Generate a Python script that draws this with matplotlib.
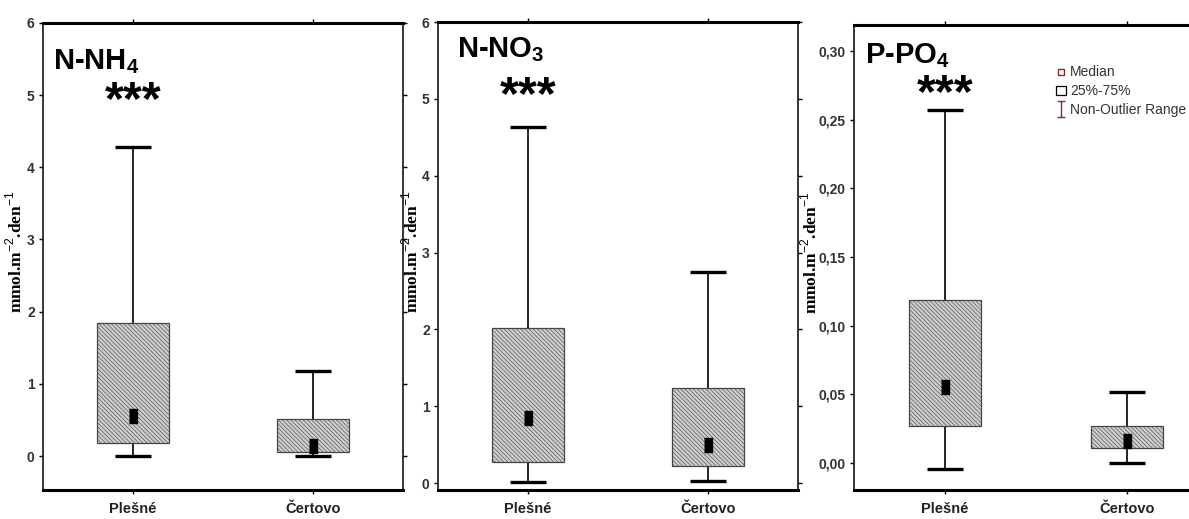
import matplotlib
matplotlib.use('Agg')
import matplotlib.pyplot as plt
from matplotlib.path import Path
from matplotlib.lines import Line2D
from matplotlib.patches import Patch

plt.rcParams['mathtext.fontset'] = 'custom'
plt.rcParams['mathtext.rm'] = 'Liberation Sans'
plt.rcParams['mathtext.bf'] = 'Liberation Sans:bold'
plt.rcParams['hatch.linewidth'] = 0.6

groups = ['Plešné', 'Čertovo']

# [Plešné, Čertovo]
nh4_low = [0.0, 0.0]
nh4_q1 = [0.18, 0.06]
nh4_med = [0.55, 0.14]
nh4_q3 = [1.84, 0.51]
nh4_high = [4.28, 1.18]

no3_low = [0.02, 0.03]
no3_q1 = [0.27, 0.22]
no3_med = [0.85, 0.50]
no3_q3 = [2.02, 1.24]
no3_high = [4.64, 2.75]

po4_low = [-0.0044, 0.0]
po4_q1 = [0.027, 0.011]
po4_med = [0.055, 0.016]
po4_q3 = [0.119, 0.027]
po4_high = [0.257, 0.052]

nh4_ticks = [0, 1, 2, 3, 4, 5, 6]
no3_ticks = [0, 1, 2, 3, 4, 5, 6]
po4_ticks = [0.0, 0.05, 0.10, 0.15, 0.20, 0.25, 0.30]

sans = ['Liberation Sans', 'DejaVu Sans']

fig = plt.figure(figsize=(11.89, 5.19), dpi=100)

# rect, title, data, ticks, ylim, format, ylabel x, title pos, stars y
panels = [
    ([0.0362, 0.0559, 0.3028, 0.900], 'N-NH$_\\mathbf{4}$', nh4_low, nh4_q1, nh4_med, nh4_q3, nh4_high,
     nh4_ticks, (-0.47, 6.0), '%d', -0.05, (0.028, 0.90), 0.831),
    ([0.3684, 0.0559, 0.3028, 0.9017], 'N-NO$_\\mathbf{3}$', no3_low, no3_q1, no3_med, no3_q3, no3_high,
     no3_ticks, (-0.09, 6.0), '%d', -0.046, (0.053, 0.925), 0.84),
    ([0.7183, 0.0559, 0.3060, 0.896], 'P-PO$_\\mathbf{4}$', po4_low, po4_q1, po4_med, po4_q3, po4_high,
     po4_ticks, (-0.0197, 0.319), '%.2f', -0.092, (0.03, 0.918), 0.85),
]

med_marker = [(-0.33, -0.5), (0.33, -0.5), (0.33, 0.5), (-0.33, 0.5)]
x = [1, 2]

for i, (rect, title, lo, q1, med, q3, hi, ticks, ylim, fmt, labx, tpos, stary) in enumerate(panels):
    ax = fig.add_axes(rect)
    ax.set_xlim(0.5, 2.5)
    ax.set_ylim(*ylim)

    ax.vlines(x, lo, hi, color='black', lw=1.2, zorder=1)
    ax.hlines(hi, [v - 0.1 for v in x], [v + 0.1 for v in x], color='black', lw=2.4, zorder=1)
    ax.hlines(lo, [v - 0.1 for v in x], [v + 0.1 for v in x], color='black', lw=2.4, zorder=1)

    h = [b - a for a, b in zip(q1, q3)]
    ax.bar(x, h, bottom=q1, width=0.4, color='#d0d0d0', edgecolor='#6a6a6a',
           hatch='\\\\\\\\\\\\\\\\', lw=0, zorder=2)
    ax.bar(x, h, bottom=q1, width=0.4, fill=False, edgecolor='#444444', lw=0.9, zorder=3)
    ax.plot(x, med, ls='none', marker=med_marker, ms=9.5, color='black', zorder=4)

    for side in ['top', 'bottom']:
        ax.spines[side].set_linewidth(2.2)
    for side in ['left', 'right']:
        ax.spines[side].set_linewidth(1.1)

    ax.set_xticks(x)
    ax.set_xticklabels(groups, fontfamily=sans, fontweight='bold', fontsize=10.5, color='#222222')
    ax.set_yticks(ticks)
    ax.set_yticklabels([(fmt % t).replace('.', ',') for t in ticks], fontfamily=sans,
                       fontweight='bold', fontsize=10, color='#333333')
    ax.tick_params(axis='both', length=3, width=1, top=True, right=True, direction='out', pad=3)
    ax.tick_params(axis='x', pad=6)

    ax.set_ylabel('mmol.m$^{-2}$.den$^{-1}$', fontfamily=['Liberation Serif', 'DejaVu Serif'],
                  fontweight='bold', fontsize=12.5)
    ax.yaxis.set_label_coords(labx, 0.51)

    ax.text(tpos[0], tpos[1], title, transform=ax.transAxes, fontsize=21, fontweight='bold',
            fontfamily=sans, ha='left', va='baseline')
    ax.text(0.25, stary, '***', transform=ax.transAxes, fontsize=35, fontweight='bold',
            fontfamily=sans, ha='center', va='center')

    if i == 2:
        whisk = Path([(-0.5, 1), (0.5, 1), (0, 1), (0, -1), (-0.5, -1), (0.5, -1)],
                     [Path.MOVETO, Path.LINETO, Path.MOVETO, Path.LINETO, Path.MOVETO, Path.LINETO])
        handles = [
            Line2D([], [], ls='none', marker='s', ms=4, mfc='none', mec='#8b2a2a', mew=1),
            Patch(facecolor='white', edgecolor='black', lw=0.9),
            Line2D([], [], ls='none', marker=whisk, ms=11, mfc='none', mec='#8b2a2a', mew=1),
        ]
        leg = ax.legend(handles, ['Median', '25%-75%', 'Non-Outlier Range'],
                        loc='upper left', bbox_to_anchor=(0.54, 0.925), frameon=False,
                        handlelength=0.7, handletextpad=0.3, labelspacing=0.35,
                        borderaxespad=0, prop={'family': sans, 'size': 10})
        for t in leg.get_texts():
            t.set_color('#333333')

fig.savefig('out.png', dpi=100)
